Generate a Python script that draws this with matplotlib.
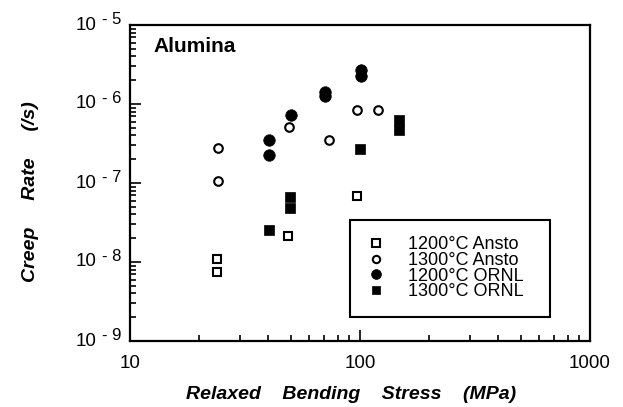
import matplotlib
matplotlib.use("Agg")
import matplotlib.pyplot as plt
from matplotlib.ticker import LogLocator, FixedLocator, NullFormatter
import matplotlib.transforms as mtrans

plt.rcParams['font.family'] = ['Liberation Sans', 'DejaVu Sans']

# Data
ansto1200_x = [24.0, 24.0, 48.6, 96.7]
ansto1200_y = [1.08e-8, 7.5e-9, 2.15e-8, 6.9e-8]
ansto1300_x = [24.1, 24.1, 49.0, 73.6, 96.7, 119.7]
ansto1300_y = [2.77e-7, 1.06e-7, 5.07e-7, 3.5e-7, 8.4e-7, 8.4e-7]
ornl1200_x = [40.3, 40.3, 50.0, 70.2, 70.2, 100.7, 100.7]
ornl1200_y = [3.5e-7, 2.26e-7, 7.3e-7, 1.4e-6, 1.28e-6, 2.7e-6, 2.26e-6]
ornl1300_x = [40.3, 49.8, 49.8, 100.0, 148.0, 148.0]
ornl1300_y = [2.54e-8, 6.65e-8, 4.83e-8, 2.67e-7, 6.27e-7, 4.69e-7]

labels = ['1200°C Ansto', '1300°C Ansto', '1200°C ORNL', '1300°C ORNL']
xticks = [10, 100, 1000]
xticklabels = ['10', '100', '1000']
yticks = [1e-9, 1e-8, 1e-7, 1e-6, 1e-5]
ytick_base = ['10', '10', '10', '10', '10']
ytick_exp = ['- 9', '- 8', '- 7', '- 6', '- 5']

fig = plt.figure(figsize=(6.23, 4.07), dpi=100)
ax = fig.add_axes([130/623, 1 - 341/407, 460/623, 316/407])
ax.set_xscale('log')
ax.set_yscale('log')
ax.set_xlim(10, 1000)
ax.set_ylim(1e-9, 1e-5)

ax.plot(ansto1200_x, ansto1200_y, 's', ms=6.2, mfc='white', mec='black', mew=1.5, ls='none', label=labels[0])
ax.plot(ansto1300_x, ansto1300_y, 'o', ms=6.2, mfc='white', mec='black', mew=1.5, ls='none', label=labels[1])
ax.plot(ornl1200_x, ornl1200_y, 'o', ms=8.3, mfc='black', mec='black', mew=0.5, ls='none', label=labels[2])
ax.plot(ornl1300_x, ornl1300_y, 's', ms=7.6, mfc='black', mec='black', mew=0.5, ls='none', label=labels[3])

for s in ax.spines.values():
    s.set_linewidth(1.6)

ax.xaxis.set_major_locator(FixedLocator(xticks))
ax.set_xticklabels(xticklabels)
ax.xaxis.set_minor_locator(LogLocator(base=10, subs=range(2, 10)))
ax.xaxis.set_minor_formatter(NullFormatter())
ax.yaxis.set_major_locator(FixedLocator(yticks))
ax.set_yticklabels(ytick_base)
ax.yaxis.set_minor_locator(LogLocator(base=10, subs=range(2, 10)))
ax.yaxis.set_minor_formatter(NullFormatter())

ax.tick_params(which='both', direction='in', top=False, right=False, width=1.2)
ax.tick_params(which='major', length=8, labelsize=13.5)
ax.tick_params(which='minor', length=4)
ax.tick_params(axis='x', which='major', pad=10)
ax.tick_params(axis='y', which='major', pad=24)
for lab in ax.get_yticklabels():
    lab.set_verticalalignment('center')

# exponents of y tick labels
blend = mtrans.blended_transform_factory(ax.transAxes, ax.transData)
for yv, ex in zip(yticks, ytick_exp):
    ax.annotate(ex, xy=(0, yv), xycoords=blend, xytext=(-6, 0.8), textcoords='offset points',
                fontsize=12, ha='right', va='baseline', annotation_clip=False)

ax.set_xlabel('Relaxed    Bending    Stress    (MPa)', fontsize=14, fontweight='bold', fontstyle='italic')
ax.xaxis.set_label_coords(221/460, -45/316)
ax.set_ylabel('Creep     Rate     (/s)', fontsize=14, fontweight='bold', fontstyle='italic')
ax.yaxis.set_label_coords(-91/460, 149/316)

ax.text(23/460, 1 - 27/316, 'Alumina', transform=ax.transAxes, fontsize=15, fontweight='bold',
        va='baseline', ha='left')

leg = ax.legend(loc='upper left', bbox_to_anchor=(220/460, 26/316, 200/460, 95/316), mode='expand',
                fontsize=13, frameon=True, fancybox=False, edgecolor='black', framealpha=1,
                handlelength=1.09, handletextpad=1.23, labelspacing=-0.07, borderpad=0.9,
                markerscale=0.85, borderaxespad=0)
leg.get_frame().set_linewidth(1.5)

fig.savefig('out.png', dpi=100)
